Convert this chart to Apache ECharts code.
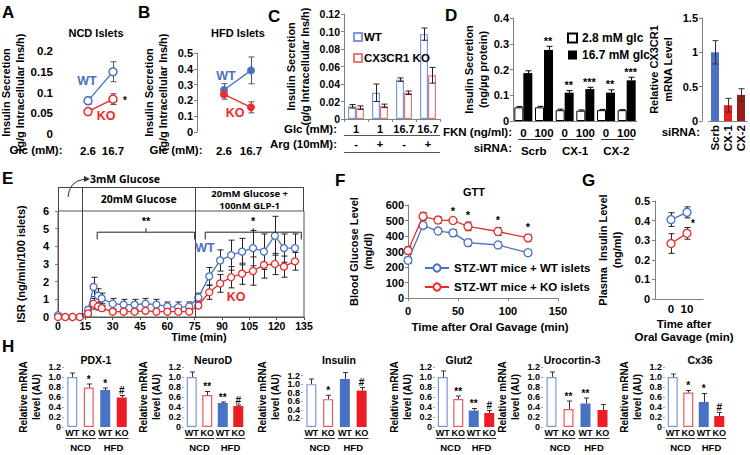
<!DOCTYPE html>
<html><head><meta charset="utf-8">
<script src="https://cdn.jsdelivr.net/npm/echarts@6.0.0/dist/echarts.min.js"></script>
<style>html,body{margin:0;padding:0;background:#fff;}#chart{width:750px;height:455px;}</style>
</head><body><div id="chart"></div>
<script>
// ---------------- DATA ----------------
// A: NCD islets
const glcLevels = ['2.6', '16.7'];
const ncdWT = [0.080, 0.150];
const ncdWTErr = [0.009, 0.024];
const ncdKO = [0.054, 0.084];
const ncdKOErr = [0.008, 0.013];
// B: HFD islets
const hfdWT = [0.266, 0.390];
const hfdWTErr = [0.040, 0.085];
const hfdKO = [0.238, 0.156];
const hfdKOErr = [0.030, 0.035];
// C
const cGlc = ['1', '1', '16.7', '16.7'];
const cArg = ['-', '+', '-', '+'];
const cWT = [0.0145, 0.030, 0.045, 0.097];
const cWTErr = [0.002, 0.010, 0.002, 0.007];
const cKO = [0.013, 0.015, 0.030, 0.050];
const cKOErr = [0.002, 0.002, 0.002, 0.009];
// D
const dFkn = ['0', '100', '0', '100', '0', '100'];
const dSirna = ['Scrb', 'CX-1', 'CX-2'];
const dLow = [0.053, 0.053, 0.042, 0.040, 0.042, 0.042];
const dLowErr = [0.003, 0.004, 0.004, 0.003, 0.003, 0.002];
const dHigh = [0.186, 0.276, 0.110, 0.124, 0.110, 0.158];
const dHighErr = [0.009, 0.014, 0.008, 0.007, 0.011, 0.012];
const dSig = ['', '**', '**', '***', '**', '***'];
const cx3cr1 = [1.0, 0.23, 0.38];
const cx3cr1Err = [0.17, 0.10, 0.09];
// E
const eTime = [0, 4, 8, 12, 16.5, 19.5, 22, 24, 30, 36, 42, 48, 54, 60, 66, 72, 77, 83, 89, 95, 101, 107, 113, 119, 124, 130];
const eWT = [0.1, 0, 0, 0, 0.4, 1.7, 1.2, 1.05, 0.75, 0.7, 0.7, 0.75, 0.7, 0.6, 0.55, 0.6, 1.1, 2.3, 3.2, 3.5, 3.7, 3.9, 3.7, 4.6, 3.9, 3.9];
const eWTErr = [0.1, 0, 0, 0, 0.2, 0.55, 0.4, 0.3, 0.3, 0.3, 0.3, 0.3, 0.3, 0.25, 0.3, 0.25, 0.25, 0.5, 0.6, 0.85, 0.75, 1.0, 1.0, 1.1, 0.8, 0.8];
const eKO = [0, 0, 0, 0, 0.2, 0.75, 0.6, 0.5, 0.3, 0.3, 0.3, 0.35, 0.3, 0.3, 0.3, 0.3, 0.65, 1.4, 1.9, 2.25, 2.45, 2.6, 2.95, 3.0, 2.85, 3.15];
const eKOErr = [0, 0, 0, 0, 0.1, 0.3, 0.2, 0.15, 0.1, 0.1, 0.1, 0.1, 0.1, 0.1, 0.1, 0.1, 0.15, 0.4, 0.5, 0.6, 0.6, 0.8, 0.75, 0.6, 0.6, 0.5];
// F
const fTime = [0, 15, 30, 45, 60, 90, 120];
const fWT = [243, 468, 432, 420, 357, 342, 292];
const fWTErr = [20, 18, 18, 22, 22, 20, 18];
const fKO = [306, 527, 503, 500, 462, 429, 388];
const fKOErr = [25, 25, 22, 12, 28, 25, 20];
const fSig = ['', '', '', '*', '*', '*', '*'];
// G
const gTime = ['0', '10'];
const gWT = [0.405, 0.442];
const gWTErr = [0.035, 0.028];
const gKO = [0.283, 0.335];
const gKOErr = [0.050, 0.030];
// H
const hGenes = ['PDX-1', 'NeuroD', 'Insulin', 'Glut2', 'Urocortin-3', 'Cx36'];
const hBarLabels = ['WT', 'KO', 'WT', 'KO'];
const hDiets = ['NCD', 'HFD'];
const pdx1 = [1.0, 0.79, 0.74, 0.59];
const pdx1Err = [0.08, 0.07, 0.04, 0.04];
const pdx1Sig = ['', '*', '*', '#'];
const neurod = [1.0, 0.64, 0.48, 0.42];
const neurodErr = [0.1, 0.07, 0.02, 0.02];
const neurodSig = ['', '**', '**', '#'];
const insulin = [1.0, 0.65, 1.12, 0.85];
const insulinErr = [0.12, 0.09, 0.15, 0.07];
const insulinSig = ['', '*', '', '#'];
const glut2 = [1.0, 0.56, 0.33, 0.28];
const glut2Err = [0.12, 0.06, 0.04, 0.05];
const glut2Sig = ['', '**', '**', '#'];
const ucn3 = [1.0, 0.36, 0.47, 0.34];
const ucn3Err = [0.1, 0.16, 0.11, 0.11];
const ucn3Sig = ['', '**', '**', ''];
const cx36 = [1.0, 0.69, 0.50, 0.22];
const cx36Err = [0.06, 0.04, 0.17, 0.07];
const cx36Sig = ['', '*', '*', '#'];

// ---------------- STYLE / LAYOUT ----------------
const FONT = 'Arial, "Liberation Sans", Helvetica, sans-serif';
const BLUE = '#4a72c4', RED = '#ec2b2b', DKRED = '#9c1b1b';
const AX = '#808080';
const grids = [], xAxes = [], yAxes = [], series = [], legends = [], graphics = [];
const tstyle = (size, color) => ({fontSize: size, fontWeight: 'bold', color: color || '#000', fontFamily: FONT});

function grid(g) { grids.push(Object.assign({outerBoundsMode: 'none', containLabel: false}, g)); return grids.length - 1; }
function xAxis(o) { xAxes.push(o); return xAxes.length - 1; }
function yAxis(o) { yAxes.push(o); return yAxes.length - 1; }
function text(x, y, s, opt) {
  opt = opt || {};
  graphics.push({type: 'text', x: x, y: y, silent: true, z: 50, rotation: opt.rot || 0,
    style: {text: s, fill: opt.color || '#000', font: 'bold ' + (opt.size || 11) + 'px ' + (opt.family || FONT),
      align: opt.align || 'center', verticalAlign: opt.va || 'middle', lineHeight: opt.lh}});
}
function errBars(xi, yi, xs, ys, es, color, cap, opts) {
  opts = opts || {};
  return {
    type: 'custom', xAxisIndex: xi, yAxisIndex: yi, silent: true, z: opts.z || 1, clip: false,
    data: xs.map((x, i) => [x, ys[i], es[i]]), encode: {x: 0, y: 1},
    renderItem(params, api) {
      const x = api.value(0), y = api.value(1), e = api.value(2);
      if (!e) return null;
      const t = api.coord([x, y + e]);
      const b = api.coord([x, opts.upOnly ? y : y - e]);
      const cx = Math.round(t[0] + (opts.dx || 0)) + 0.5;
      const st = {stroke: color, lineWidth: opts.lw || 1};
      const ch = [
        {type: 'line', shape: {x1: cx, y1: t[1], x2: cx, y2: b[1]}, style: st},
        {type: 'line', shape: {x1: cx - cap, y1: t[1], x2: cx + cap, y2: t[1]}, style: st}
      ];
      if (!opts.upOnly) ch.push({type: 'line', shape: {x1: cx - cap, y1: b[1], x2: cx + cap, y2: b[1]}, style: st});
      return {type: 'group', children: ch};
    }
  };
}
function sigMarks(xi, yi, xs, ys, labels, opts) {
  opts = opts || {};
  return {
    type: 'custom', xAxisIndex: xi, yAxisIndex: yi, silent: true, z: 20, clip: false,
    data: xs.map((x, i) => [x, ys[i]]), encode: {x: 0, y: 1},
    renderItem(params, api) {
      const s = labels[params.dataIndex];
      if (!s) return null;
      const c = api.coord([api.value(0), api.value(1)]);
      return {type: 'text', x: c[0] + (opts.dx || 0), y: c[1] + (opts.dy || 0),
        style: {text: s, fill: '#000', font: 'bold ' + (opts.size || 11) + 'px ' + FONT, align: 'center', verticalAlign: 'bottom'}};
    }
  };
}
const valY = (gi, min, max, itv, o) => Object.assign({
  gridIndex: gi, type: 'value', min: min, max: max, interval: itv,
  axisLine: {show: true, lineStyle: {color: AX}}, axisTick: {show: true, length: 3, lineStyle: {color: AX}},
  splitLine: {show: false}, axisLabel: Object.assign({margin: 4}, tstyle(10.5))
}, o || {});
const yName = (name, gap, size) => ({name: name, nameLocation: 'middle', nameRotate: 90, nameGap: gap,
  nameTextStyle: Object.assign({lineHeight: (size || 11) + 3}, tstyle(size || 11))});

// ---------- Panel A ----------
const gA = grid({left: 63, top: 51, width: 75, height: 83});
const xA = xAxis({gridIndex: gA, type: 'category', boundaryGap: false, data: ['', ...glcLevels, ''],
  axisLine: {show: false}, axisTick: {show: false}, axisLabel: Object.assign({margin: 11, interval: 0}, tstyle(11.5))});
const yA = yAxis(valY(gA, 0, 0.2, 0.05, Object.assign({axisLine: {show: false}, axisTick: {show: false},
  axisLabel: Object.assign({margin: 10}, tstyle(11.5))}, yName('Insulin Secretion\n(g/g Intracellular Ins/h)', 31, 11))));
const idxA = glcLevels.map((_, i) => i + 1);
series.push(errBars(xA, yA, idxA, ncdWT, ncdWTErr, '#555', 3));
series.push(errBars(xA, yA, idxA, ncdKO, ncdKOErr, '#555', 3));
series.push({name: 'A-WT', type: 'line', xAxisIndex: xA, yAxisIndex: yA, data: idxA.map((x, i) => [x, ncdWT[i]]),
  symbol: 'circle', symbolSize: 8, lineStyle: {color: BLUE, width: 1.3}, itemStyle: {color: '#fff', borderColor: BLUE, borderWidth: 1.5}, z: 3});
series.push({name: 'A-KO', type: 'line', xAxisIndex: xA, yAxisIndex: yA, data: idxA.map((x, i) => [x, ncdKO[i]]),
  symbol: 'circle', symbolSize: 8, lineStyle: {color: RED, width: 1.3}, itemStyle: {color: '#fff', borderColor: RED, borderWidth: 1.5}, z: 3});
text(96, 33, 'NCD Islets', {size: 11});
text(87, 81, 'WT', {color: BLUE, size: 12.5});
text(106, 116, 'KO', {color: RED, size: 12.5});
text(125, 100, '*', {size: 10});
text(36, 150, 'Glc (mM):', {size: 11.5});

// ---------- Panel B ----------
const gB = grid({left: 197, top: 53, width: 81, height: 79});
const xB = xAxis({gridIndex: gB, type: 'category', boundaryGap: false, data: ['', ...glcLevels, ''],
  axisLine: {show: false}, axisTick: {show: false}, axisLabel: Object.assign({margin: 13, interval: 0}, tstyle(11.5))});
const yB = yAxis(valY(gB, 0, 0.5, 0.1, Object.assign({axisLabel: Object.assign({margin: 4}, tstyle(11))},
  yName('Insulin Secretion\n(g/g Intracellular Ins/h)', 27, 11))));
series.push(errBars(xB, yB, idxA, hfdWT, hfdWTErr, '#555', 3));
series.push(errBars(xB, yB, idxA, hfdKO, hfdKOErr, '#555', 3));
series.push({name: 'B-WT', type: 'line', xAxisIndex: xB, yAxisIndex: yB, data: idxA.map((x, i) => [x, hfdWT[i]]),
  symbol: 'circle', symbolSize: 8, lineStyle: {color: BLUE, width: 1.3}, itemStyle: {color: BLUE}, z: 3});
series.push({name: 'B-KO', type: 'line', xAxisIndex: xB, yAxisIndex: yB, data: idxA.map((x, i) => [x, hfdKO[i]]),
  symbol: 'circle', symbolSize: 8, lineStyle: {color: RED, width: 1.3}, itemStyle: {color: RED}, z: 3});
text(238, 33, 'HFD Islets', {size: 11});
text(226, 76, 'WT', {color: BLUE, size: 12.5});
text(235, 113, 'KO', {color: RED, size: 12.5});
text(176, 150, 'Glc (mM):', {size: 11.5});

// ---------- Panel C ----------
const gC = grid({left: 344, top: 14, width: 96, height: 105});
const xC = xAxis({gridIndex: gC, type: 'category', data: cGlc,
  axisLine: {lineStyle: {color: AX}}, axisTick: {show: true, length: 3, lineStyle: {color: AX}},
  axisLabel: Object.assign({margin: 4, interval: 0}, tstyle(11))});
const xC2 = xAxis({gridIndex: gC, type: 'category', data: cArg, position: 'bottom', offset: 16,
  axisLine: {show: false}, axisTick: {show: false}, axisLabel: Object.assign({margin: 3, interval: 0}, tstyle(11))});
const yC = yAxis(valY(gC, 0, 0.12, 0.02, Object.assign({axisLabel: Object.assign({margin: 4,
  formatter: v => v === 0 ? '0' : v.toFixed(2)}, tstyle(10.5))}, yName('Insulin Secretion\n(g/g Intracellular Ins/h)', 32, 11))));
const idxC = cGlc.map((_, i) => i);
series.push({name: 'WT', type: 'bar', xAxisIndex: xC, yAxisIndex: yC, data: cWT, barWidth: 8, barGap: '0%',
  itemStyle: {color: '#fff', borderColor: '#7d99d8', borderWidth: 1.2}});
series.push({name: 'CX3CR1 KO', type: 'bar', xAxisIndex: xC, yAxisIndex: yC, data: cKO, barWidth: 8, barGap: '0%',
  itemStyle: {color: '#fff', borderColor: '#e67a7a', borderWidth: 1.2}});
series.push(errBars(xC, yC, idxC, cWT, cWTErr, '#222', 3, {dx: -4, z: 5}));
series.push(errBars(xC, yC, idxC, cKO, cKOErr, '#222', 3, {dx: 4, z: 5}));
legends.push({data: ['WT', 'CX3CR1 KO'], left: 348, top: 26, orient: 'vertical', itemWidth: 8, itemHeight: 8, itemGap: 9,
  icon: 'rect', textStyle: Object.assign({padding: [0, 0, 0, -3]}, tstyle(11.5)), selectedMode: false});
text(268, 8, 'C', {size: 17, align: 'left', va: 'top'});
text(337, 129, 'Glc (mM):', {size: 11.5, align: 'right'});
text(337, 144, 'Arg (10mM):', {size: 11.5, align: 'right'});

// ---------- Panel D ----------
const gD = grid({left: 513, top: 18, width: 124, height: 103});
const xD = xAxis({gridIndex: gD, type: 'category', data: dFkn,
  axisLine: {lineStyle: {color: AX}}, axisTick: {show: false},
  axisLabel: Object.assign({margin: 6, interval: 0}, tstyle(11.5))});
const xD2 = xAxis({gridIndex: gD, type: 'category', data: dSirna, position: 'bottom', offset: 21,
  axisLine: {show: false}, axisTick: {show: false}, axisLabel: Object.assign({margin: 3, interval: 0}, tstyle(11.5))});
const yD = yAxis(valY(gD, 0, 0.4, 0.1, Object.assign({axisLabel: Object.assign({margin: 4}, tstyle(11))},
  yName('Insulin Secretion\n(ng/\u00b5g protein)', 23, 11))));
const idxD = dFkn.map((_, i) => i);
series.push({name: '2.8 mM glc', type: 'bar', xAxisIndex: xD, yAxisIndex: yD, data: dLow, barWidth: 9, barGap: '0%',
  itemStyle: {color: '#fff', borderColor: '#000', borderWidth: 1}});
series.push({name: '16.7 mM glc', type: 'bar', xAxisIndex: xD, yAxisIndex: yD, data: dHigh, barWidth: 9, barGap: '0%',
  itemStyle: {color: '#000'}});
series.push(errBars(xD, yD, idxD, dLow, dLowErr, '#000', 3, {dx: -4.5, upOnly: true, z: 5}));
series.push(errBars(xD, yD, idxD, dHigh, dHighErr, '#000', 3, {dx: 4.5, upOnly: true, z: 5}));
series.push(sigMarks(xD, yD, idxD, dHigh.map((v, i) => v + dHighErr[i]), dSig, {dx: 4, dy: 0, size: 11}));
legends.push({data: ['2.8 mM glc', '16.7 mM glc'], left: 562, top: 27, orient: 'vertical', itemWidth: 9, itemHeight: 9, itemGap: 5,
  icon: 'rect', textStyle: tstyle(12), selectedMode: false});
text(445, 7, 'D', {size: 17, align: 'left', va: 'top'});
text(512, 132, 'FKN (ng/ml):', {size: 11.5, align: 'right'});
text(512, 148, 'siRNA:', {size: 11.5, align: 'right'});

// D right
const gDr = grid({left: 708.5, top: 18, width: 39, height: 103});
const xDr = xAxis({gridIndex: gDr, type: 'category', data: dSirna,
  axisLine: {lineStyle: {color: AX}}, axisTick: {show: false},
  axisLabel: Object.assign({margin: 4, rotate: 90, interval: 0}, tstyle(11.5))});
const yDr = yAxis(valY(gDr, 0, 1.5, 0.5, Object.assign({offset: 6.5, axisLabel: Object.assign({margin: 4}, tstyle(11))},
  yName('Relative CX3CR1\nmRNA Level', 27, 11))));
series.push({name: 'Dr', type: 'bar', xAxisIndex: xDr, yAxisIndex: yDr, barWidth: 8,
  data: cx3cr1.map((v, i) => ({value: v, itemStyle: {color: [BLUE, '#ee1c1c', DKRED][i]}}))});
series.push(errBars(xDr, yDr, [0, 1, 2], cx3cr1, cx3cr1Err, '#333', 3, {z: 5}));
text(700, 132, 'siRNA:', {size: 11.5, align: 'right'});

// ---------- Panel E ----------
const gE = grid({left: 58, top: 211, width: 246, height: 106, show: true, borderColor: '#555', borderWidth: 1});
const xE = xAxis({gridIndex: gE, type: 'value', min: 0, max: 135, interval: 15,
  axisLine: {lineStyle: {color: '#555'}}, axisTick: {show: true, length: 3, lineStyle: {color: '#555'}}, splitLine: {show: false},
  axisLabel: Object.assign({margin: 3}, tstyle(10.5))});
const yE = yAxis(valY(gE, 0, 6, 1, Object.assign({axisLine: {lineStyle: {color: '#555'}}, axisLabel: Object.assign({margin: 9}, tstyle(11))},
  yName('ISR (ng/min/100 islets)', 30, 11))));
series.push(errBars(xE, yE, eTime, eWT, eWTErr, '#222', 3));
series.push(errBars(xE, yE, eTime, eKO, eKOErr, '#222', 3));
series.push({name: 'E-WT', type: 'line', xAxisIndex: xE, yAxisIndex: yE, data: eTime.map((t, i) => [t, eWT[i]]),
  symbol: 'circle', symbolSize: 7, lineStyle: {color: BLUE, width: 1.3}, itemStyle: {color: '#fff', borderColor: BLUE, borderWidth: 1.3}, z: 3});
series.push({name: 'E-KO', type: 'line', xAxisIndex: xE, yAxisIndex: yE, data: eTime.map((t, i) => [t, eKO[i]]),
  symbol: 'circle', symbolSize: 7, lineStyle: {color: RED, width: 1.3}, itemStyle: {color: '#fff', borderColor: RED, borderWidth: 1.3}, z: 4});
text(2, 170, 'E', {size: 17, align: 'left', va: 'top'});
text(205, 248, 'WT', {color: BLUE, size: 12.5});
text(236, 297, 'KO', {color: RED, size: 12.5});
text(199, 337, 'Time (min)', {size: 11});

// ---------- Panel F ----------
const gF = grid({left: 408, top: 205, width: 150, height: 93});
const xF = xAxis({gridIndex: gF, type: 'value', min: 0, max: 150, interval: 50,
  axisLine: {lineStyle: {color: AX}}, axisTick: {show: true, length: 3, lineStyle: {color: AX}}, splitLine: {show: false},
  axisLabel: Object.assign({margin: 7}, tstyle(11))});
const yF = yAxis(valY(gF, 0, 600, 100, Object.assign({axisLabel: Object.assign({margin: 4}, tstyle(11))},
  yName('Blood Glucose Level\n(mg/dl)', 33, 11))));
series.push(errBars(xF, yF, fTime, fWT, fWTErr, '#222', 3));
series.push(errBars(xF, yF, fTime, fKO, fKOErr, '#222', 3));
series.push({name: 'STZ-WT mice + WT islets', type: 'line', xAxisIndex: xF, yAxisIndex: yF, data: fTime.map((t, i) => [t, fWT[i]]),
  symbol: 'circle', symbolSize: 8, lineStyle: {color: BLUE, width: 1.3}, itemStyle: {color: '#fff', borderColor: BLUE, borderWidth: 1.3}, z: 3});
series.push({name: 'STZ-WT mice + KO islets', type: 'line', xAxisIndex: xF, yAxisIndex: yF, data: fTime.map((t, i) => [t, fKO[i]]),
  symbol: 'circle', symbolSize: 8, lineStyle: {color: RED, width: 1.3}, itemStyle: {color: '#fff', borderColor: RED, borderWidth: 1.3}, z: 4});
series.push(sigMarks(xF, yF, fTime, fKO.map((v, i) => v + fKOErr[i]), fSig, {dy: -2, size: 11}));
legends.push({data: ['STZ-WT mice + WT islets', 'STZ-WT mice + KO islets'], left: 419, top: 257, orient: 'vertical',
  itemWidth: 24, itemHeight: 9, itemGap: 7, textStyle: tstyle(11.5), selectedMode: false});
text(335, 172, 'F', {size: 17, align: 'left', va: 'top'});
text(474, 192, 'GTT', {size: 11});
text(490, 327, 'Time after Oral Gavage (min)', {size: 11.5});

// ---------- Panel G ----------
const gG = grid({left: 655, top: 201, width: 48, height: 98});
const xG = xAxis({gridIndex: gG, type: 'category', boundaryGap: false, data: ['', ...gTime, ''],
  axisLine: {lineStyle: {color: AX}}, axisTick: {show: false}, axisLabel: Object.assign({margin: 4, interval: 0}, tstyle(11.5))});
const yG = yAxis(valY(gG, 0, 0.5, 0.1, Object.assign({axisLabel: Object.assign({margin: 5}, tstyle(11))},
  yName('Plasma  Insulin Level\n(ng/ml)', 31, 11))));
const idxG = gTime.map((_, i) => i + 1);
series.push(errBars(xG, yG, idxG, gWT, gWTErr, '#222', 3));
series.push(errBars(xG, yG, idxG, gKO, gKOErr, '#222', 3));
series.push({name: 'G-WT', type: 'line', xAxisIndex: xG, yAxisIndex: yG, data: idxG.map((x, i) => [x, gWT[i]]),
  symbol: 'circle', symbolSize: 8, lineStyle: {color: BLUE, width: 1.3}, itemStyle: {color: '#fff', borderColor: BLUE, borderWidth: 1.3}, z: 3});
series.push({name: 'G-KO', type: 'line', xAxisIndex: xG, yAxisIndex: yG, data: idxG.map((x, i) => [x, gKO[i]]),
  symbol: 'circle', symbolSize: 8, lineStyle: {color: RED, width: 1.3}, itemStyle: {color: '#fff', borderColor: RED, borderWidth: 1.3}, z: 3});
text(582, 172, 'G', {size: 17, align: 'left', va: 'top'});
text(693, 223, '*', {size: 10});
text(684, 324, 'Time after', {size: 11.5});
text(684, 337, 'Oral Gavage (min)', {size: 11.5});

// ---------- Panel H ----------
const hVals = [pdx1, neurod, insulin, glut2, ucn3, cx36];
const hErrs = [pdx1Err, neurodErr, insulinErr, glut2Err, ucn3Err, cx36Err];
const hSigs = [pdx1Sig, neurodSig, insulinSig, glut2Sig, ucn3Sig, cx36Sig];
const hLayout = [
  {left: 64, width: 66, tx: 96}, {left: 184, width: 62, tx: 213}, {left: 303, width: 67, tx: 339},
  {left: 435, width: 62, tx: 459}, {left: 543, width: 68, tx: 572}, {left: 665, width: 62, tx: 700}];
const hBarStyle = [
  {color: '#fff', borderColor: '#7d99d8', borderWidth: 1.2}, {color: '#fff', borderColor: '#ec5a5a', borderWidth: 1.2},
  {color: BLUE}, {color: '#ee1c24'}];
const hX = [], hX2 = [];
hGenes.forEach((gene, k) => {
  const L = hLayout[k];
  const gi = grid({left: L.left, top: 367, width: L.width, height: 60});
  const xi = xAxis({gridIndex: gi, type: 'category', data: hBarLabels,
    axisLine: {show: false}, axisTick: {show: false}, axisLabel: Object.assign({margin: 1, interval: 0}, tstyle(9))});
  const xi2 = xAxis({gridIndex: gi, type: 'category', data: hDiets, position: 'bottom', offset: 14,
    axisLine: {show: false}, axisTick: {show: false}, axisLabel: Object.assign({margin: 1, interval: 0}, tstyle(9.5))});
  hX.push(xi); hX2.push(xi2);
  const ymax = gene === 'Insulin' ? 1.4 : 1.2;
  const yi = yAxis(valY(gi, 0, ymax, 0.2, Object.assign({axisLine: {lineStyle: {color: '#aaa'}}, axisTick: {show: true, length: 2, lineStyle: {color: '#aaa'}},
    axisLabel: Object.assign({margin: 3, formatter: v => v === 0 ? '0' : v.toFixed(1)}, tstyle(9))},
    yName('Relative mRNA\nlevel (AU)', 21, 10))));
  series.push({name: 'H-' + gene, type: 'bar', xAxisIndex: xi, yAxisIndex: yi, barWidth: 10,
    data: hVals[k].map((v, i) => ({value: v, itemStyle: hBarStyle[i]}))});
  series.push(errBars(xi, yi, [0, 1, 2, 3], hVals[k], hErrs[k], '#333', 2.5, {upOnly: true, z: 5}));
  series.push(sigMarks(xi, yi, [0, 1, 2, 3], hVals[k].map((v, i) => v + hErrs[k][i]), hSigs[k], {dy: 0, size: 10}));
  text(L.tx, 360, gene, {size: 10.5});
});
text(2, 338, 'H', {size: 17, align: 'left', va: 'top'});

// panel letters
text(2, 4, 'A', {size: 17, align: 'left', va: 'top'});
text(138, 4, 'B', {size: 17, align: 'left', va: 'top'});

// ---------------- CHART ----------------
const chart = echarts.init(document.getElementById('chart'), null, {renderer: 'svg', width: 750, height: 455});
chart.setOption({
  animation: false,
  backgroundColor: '#fff',
  textStyle: {fontFamily: FONT},
  grid: grids, xAxis: xAxes, yAxis: yAxes, series: series, legend: legends,
  graphic: graphics
});

// ---- decorations positioned through the axes ----
const px = (xi, v) => chart.convertToPixel({xAxisIndex: xi}, v);
const py = (yi, v) => chart.convertToPixel({yAxisIndex: yi}, v);
const extra = [];
const L = (x1, y1, x2, y2, c, w) => extra.push({type: 'line', silent: true, z: 40,
  shape: {x1: x1, y1: y1, x2: x2, y2: y2}, style: {stroke: c || '#000', lineWidth: w || 1}});
const T = (x, y, s, size, align, fam, color) => extra.push({type: 'text', x: x, y: y, silent: true, z: 50,
  style: {text: s, fill: color || '#000', font: 'bold ' + size + 'px ' + (fam || FONT), align: align || 'center', verticalAlign: 'middle'}});

// C row lines
{
  const x0 = px(xC, 0) - 12, x1 = px(xC, 3) + 12;
  L(x0, 135.5, x1, 135.5, '#555'); L(x0, 152.5, x1, 152.5, '#555');
}
// D siRNA group lines
dSirna.forEach((s, i) => {
  const a = px(xD, 2 * i) - 5, b = px(xD, 2 * i + 1) + 7;
  L(a, 139.5, b, 139.5, '#333');
});
// E condition box
{
  const E = '"Open Sans", "Noto Sans", sans-serif';
  const xs0 = px(xE, 0), xs1 = px(xE, 13.2), xs2 = px(xE, 75.3), xs3 = px(xE, 135);
  const y6 = py(yE, 6), y0 = py(yE, 0), yTop = y6 - 24;
  L(xs0, yTop + 0.5, xs3, yTop + 0.5, '#444');
  L(xs0 + 0.5, yTop, xs0 + 0.5, y6, '#444');
  L(xs3 - 0.5, yTop, xs3 - 0.5, y6, '#444');
  L(Math.round(xs1) + 0.5, yTop, Math.round(xs1) + 0.5, y0, '#444');
  L(Math.round(xs2) + 0.5, yTop, Math.round(xs2) + 0.5, y0, '#444');
  T((xs1 + xs2) / 2, yTop + 12, '20mM Glucose', 10.5, 'center', E);
  T((xs2 + xs3) / 2, yTop + 6.5, '20mM Glucose +', 9.5, 'center', E);
  T((xs2 + xs3) / 2, yTop + 18, '100nM GLP-1', 9.5, 'center', E);
  T(90, yTop - 8, '3mM Glucose', 10.5, 'left', E);
  extra.push({type: 'bezierCurve', silent: true, z: 40, shape: {x1: xs0 + 10, y1: yTop + 10, cpx1: xs0 + 11, cpy1: yTop - 6, x2: 85, y2: yTop - 8},
    style: {stroke: '#333', lineWidth: 1, fill: null}});
  extra.push({type: 'polygon', silent: true, z: 40, shape: {points: [[84, yTop - 11], [90, yTop - 8], [84, yTop - 5]]}, style: {fill: '#333'}});
  // brackets
  const yb = py(yE, 4.8), yt = py(yE, 4.5);
  const br = (t0, t1, lab) => {
    const a = px(xE, t0), b = px(xE, t1), m = (a + b) / 2;
    L(a, yb, b, yb, '#222'); L(a, yb, a, yt + 2, '#222'); L(b, yb, b, yt + 2, '#222'); L(m, yb, m, yb - 4, '#222');
    T(m, yb - 11, lab, 11, 'center');
  };
  br(21.5, 75, '**');
  br(80.8, 133.5, '*');
}
// H group lines
hGenes.forEach((g, k) => {
  const xi = hX[k];
  const y = 438.5;
  L(px(xi, 0) - 7, y, px(xi, 1) + 7, y, '#333');
  L(px(xi, 2) - 7, y, px(xi, 3) + 7, y, '#333');
});
chart.setOption({graphic: graphics.concat(extra)});
</script>
</body></html>
